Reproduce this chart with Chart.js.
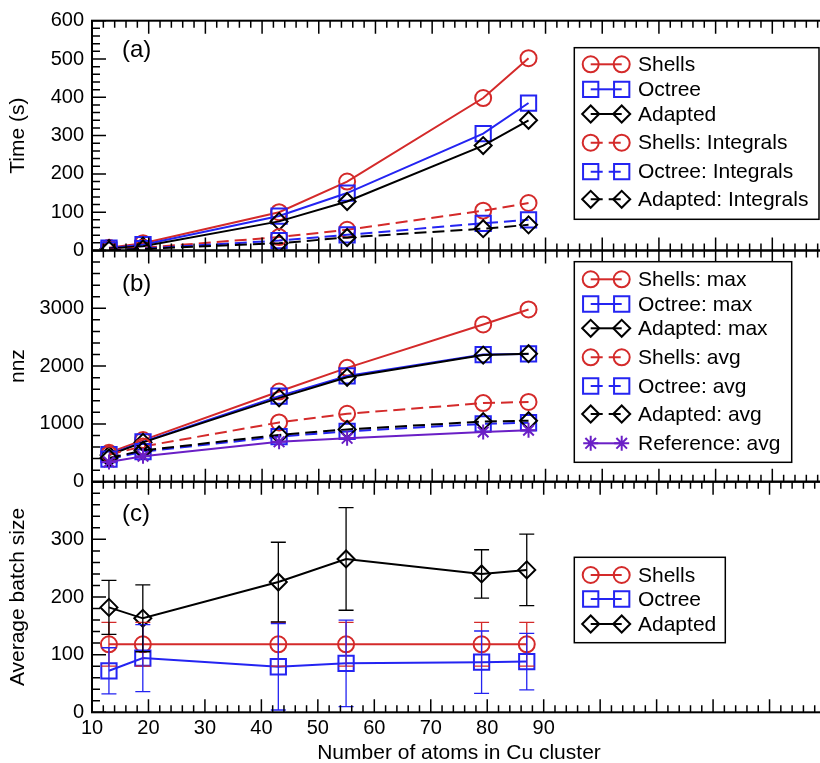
<!DOCTYPE html>
<html><head><meta charset="utf-8">
<script src="https://cdn.jsdelivr.net/npm/chart.js@4.4.1/dist/chart.umd.min.js"></script>
<style>
html,body{margin:0;padding:0;background:#fff;overflow:hidden;}
#wrap{position:relative;width:820px;height:763px;overflow:hidden;background:#fff;}
canvas{position:absolute;left:0;top:0;}
</style></head><body>
<div id="wrap">
<canvas id="ca" width="830" height="763"></canvas>
<canvas id="cb" width="830" height="763"></canvas>
<canvas id="cc" width="830" height="763"></canvas>
</div>
<script>
// ---------- data ----------
const atoms = [13, 19, 43, 55, 79, 87];
const xTickLabels = [10, 20, 30, 40, 50, 60, 70, 80, 90];

// (a) Time (s)
const timeShells  = [7, 19, 100, 180, 398, 502];
const timeOctree  = [6, 15, 90, 150, 305, 385];
const timeAdapted = [5, 11, 76, 128, 274, 340];
const intShells   = [2, 7, 35, 54, 104, 124];
const intOctree   = [1, 5, 26, 41, 71, 80];
const intAdapted  = [1, 4, 19, 34, 57, 67];
const timeTicks = [0, 100, 200, 300, 400, 500, 600];

// (b) nnz
const nnzShellsMax  = [500, 720, 1560, 1970, 2720, 2980];
const nnzOctreeMax  = [470, 690, 1480, 1830, 2200, 2210];
const nnzAdaptedMax = [460, 680, 1450, 1806, 2190, 2215];
const nnzShellsAvg  = [470, 610, 1025, 1175, 1360, 1380];
const nnzOctreeAvg  = [390, 520, 780, 870, 1000, 1020];
const nnzAdaptedAvg = [410, 540, 810, 905, 1040, 1055];
const nnzRefAvg     = [340, 440, 690, 750, 860, 890];
const nnzTicks = [0, 1000, 2000, 3000];

// (c) Average batch size (value, +/- error)
const batchShells  = [118, 118, 118, 118, 118, 118];
const errShells    = [38, 38, 38, 38, 38, 38];
const batchOctree  = [72, 94, 79, 85, 87, 88];
const errOctree    = [40, 58, 75, 75, 54, 49];
const batchAdapted = [182, 163, 226, 266, 240, 247];
const errAdapted   = [47, 58, 69, 89, 42, 62];
const batchTicks = [0, 100, 200, 300];

// ---------- styles ----------
const RED = '#d42a2a', BLUE = '#2424f2', BLACK = '#000000', PURPLE = '#6a1fc6';
const FONT = '"Liberation Sans", Arial, Helvetica, sans-serif';
const R = {circle: 8, rect: 10.8, rectRot: 8.5, star: 7.5};
const DASH = [12, 6];

function series(vals, color, style, dashed) {
  return {
    data: atoms.map((x, i) => ({x: x, y: vals[i]})),
    borderColor: color, borderWidth: 2, borderDash: dashed ? DASH : [],
    pointStyle: style, pointRadius: R[style], pointHoverRadius: R[style],
    pointBorderColor: color, pointBorderWidth: 2,
    pointBackgroundColor: 'rgba(0,0,0,0)', fill: false, tension: 0
  };
}

function drawMarker(ctx, style, x, y, color) {
  const r = R[style];
  ctx.save();
  ctx.setLineDash([]);
  ctx.strokeStyle = color; ctx.lineWidth = 2;
  ctx.beginPath();
  if (style === 'circle') ctx.arc(x, y, r, 0, Math.PI * 2);
  else if (style === 'rect') { const s = Math.SQRT1_2 * r; ctx.rect(x - s, y - s, 2 * s, 2 * s); }
  else if (style === 'rectRot') { ctx.moveTo(x - r, y); ctx.lineTo(x, y - r); ctx.lineTo(x + r, y); ctx.lineTo(x, y + r); ctx.closePath(); }
  else if (style === 'star') {
    for (let k = 0; k < 4; k++) {
      const a = k * Math.PI / 4, c = Math.cos(a) * r, s = Math.sin(a) * r;
      ctx.moveTo(x + c, y + s); ctx.lineTo(x - c, y - s);
    }
  }
  ctx.stroke();
  ctx.restore();
}

const framePlugin = {
  id: 'frame',
  afterDatasetsDraw(chart, args, o) {
    const ctx = chart.ctx;
    if (o.errors) {
      const xs = chart.scales.x, ys = chart.scales.y;
      ctx.save();
      o.errors.forEach(e => {
        ctx.strokeStyle = e.color; ctx.lineWidth = 1.3; ctx.setLineDash([]);
        atoms.forEach((x, i) => {
          const px = xs.getPixelForValue(x);
          const p1 = ys.getPixelForValue(e.vals[i] + e.err[i]);
          const p2 = ys.getPixelForValue(e.vals[i] - e.err[i]);
          ctx.beginPath();
          ctx.moveTo(px, p1); ctx.lineTo(px, p2);
          ctx.moveTo(px - 7.5, p1); ctx.lineTo(px + 7.5, p1);
          ctx.moveTo(px - 7.5, p2); ctx.lineTo(px + 7.5, p2);
          ctx.stroke();
        });
      });
      ctx.restore();
    }
  },
  afterDraw(chart, args, o) {
    const ctx = chart.ctx;
    const {left, right, top, bottom} = chart.chartArea;
    const xs = chart.scales.x, ys = chart.scales.y;
    ctx.save();
    ctx.strokeStyle = '#000'; ctx.setLineDash([]);
    ctx.lineWidth = 1.5;
    ctx.beginPath();
    for (let k = 5; k <= 70; k++) {
      const v = k * 2, px = xs.getPixelForValue(v);
      const L = (v % 10 === 0) ? 13 : 7;
      ctx.moveTo(px, top); ctx.lineTo(px, top + L);
      ctx.moveTo(px, bottom); ctx.lineTo(px, bottom - L);
    }
    const n = Math.round((o.yMax - o.yMin) / o.yMinor);
    for (let k = 0; k <= n; k++) {
      const v = o.yMin + k * o.yMinor, py = ys.getPixelForValue(v);
      const L = (k % o.perMajor === 0) ? 14 : 8;
      ctx.moveTo(left, py); ctx.lineTo(left + L, py);
    }
    ctx.stroke();
    ctx.lineWidth = 2;
    ctx.strokeRect(left, top, right - left, bottom - top);
    // panel label
    ctx.fillStyle = '#000';
    ctx.font = '24px ' + FONT;
    ctx.textBaseline = 'middle'; ctx.textAlign = 'left';
    ctx.fillText(o.label, 122, o.labelY);
    // legend
    const lg = o.legend;
    ctx.fillStyle = '#fff';
    ctx.fillRect(lg.x1, lg.y1, lg.x2 - lg.x1, lg.y2 - lg.y1);
    ctx.lineWidth = 1.5; ctx.strokeStyle = '#000';
    ctx.strokeRect(lg.x1, lg.y1, lg.x2 - lg.x1, lg.y2 - lg.y1);
    ctx.font = '21px ' + FONT;
    lg.items.forEach(it => {
      ctx.save();
      ctx.strokeStyle = it.color; ctx.lineWidth = 2;
      ctx.setLineDash(it.dashed ? DASH : []);
      ctx.beginPath(); ctx.moveTo(590.7, it.y); ctx.lineTo(621.7, it.y); ctx.stroke();
      ctx.restore();
      drawMarker(ctx, it.style, 590.7, it.y, it.color);
      drawMarker(ctx, it.style, 621.7, it.y, it.color);
      ctx.fillStyle = '#000';
      ctx.fillText(it.text, 638, it.y + 1);
    });
    ctx.restore();
  }
};

function makeChart(id, datasets, yMin, yMax, yStep, yMinor, title, padTop, padBottom, frame, showX) {
  const xScale = {
    type: 'linear', min: 10, max: 140,
    grid: {display: false, drawTicks: false}, border: {display: false},
    ticks: {display: false},
    afterFit: s => { s.height = 0; }
  };
  if (showX) {
    xScale.ticks = {
      display: true, stepSize: 10, autoSkip: false, maxRotation: 0, padding: 4,
      color: '#000', font: {family: FONT, size: 20},
      callback: v => xTickLabels.includes(v) ? String(v) : ''
    };
    xScale.title = {display: true, text: 'Number of atoms in Cu cluster', color: '#000',
      font: {family: FONT, size: 21, lineHeight: 1}, padding: {top: 0, bottom: -1}};
    xScale.afterFit = s => { s.height = 763 - 712.3; };
  }
  return new Chart(document.getElementById(id), {
    type: 'line',
    data: {datasets: datasets.slice().reverse()},
    options: {
      responsive: false, animation: false, devicePixelRatio: 1,
      layout: {autoPadding: false, padding: {top: padTop, bottom: padBottom, left: 0, right: 1}},
      plugins: {legend: {display: false}, tooltip: {enabled: false}, frame: frame},
      scales: {
        x: xScale,
        y: {
          min: yMin, max: yMax,
          grid: {display: false, drawTicks: false}, border: {display: false},
          ticks: {stepSize: yStep, padding: 8, color: '#000', font: {family: FONT, size: 20},
            callback: v => frame.tickLabels.includes(v) ? String(v) : ''},
          title: {display: true, text: title, color: '#000',
            font: {family: FONT, size: 21, lineHeight: 1}, padding: {top: 7.5, bottom: 0}},
          afterFit: s => { s.width = 92; }
        }
      }
    },
    plugins: [framePlugin]
  });
}

// (a)
makeChart('ca', [
  series(timeShells, RED, 'circle', false),
  series(timeOctree, BLUE, 'rect', false),
  series(timeAdapted, BLACK, 'rectRot', false),
  series(intShells, RED, 'circle', true),
  series(intOctree, BLUE, 'rect', true),
  series(intAdapted, BLACK, 'rectRot', true)
], 0, 600, 100, 20, 'Time (s)', 20.7, 763 - 250.5, {
  yMin: 0, yMax: 600, yMinor: 20, perMajor: 5, tickLabels: timeTicks,
  label: '(a)', labelY: 50,
  legend: {x1: 574.3, y1: 47.7, x2: 819, y2: 219.3, items: [
    {text: 'Shells', color: RED, style: 'circle', dashed: false, y: 64.3},
    {text: 'Octree', color: BLUE, style: 'rect', dashed: false, y: 89.3},
    {text: 'Adapted', color: BLACK, style: 'rectRot', dashed: false, y: 114},
    {text: 'Shells: Integrals', color: RED, style: 'circle', dashed: true, y: 142.7},
    {text: 'Octree: Integrals', color: BLUE, style: 'rect', dashed: true, y: 171.7},
    {text: 'Adapted: Integrals', color: BLACK, style: 'rectRot', dashed: true, y: 199.3}
  ]}
}, false);

// (b)
makeChart('cb', [
  series(nnzShellsMax, RED, 'circle', false),
  series(nnzOctreeMax, BLUE, 'rect', false),
  series(nnzAdaptedMax, BLACK, 'rectRot', false),
  series(nnzShellsAvg, RED, 'circle', true),
  series(nnzOctreeAvg, BLUE, 'rect', true),
  series(nnzAdaptedAvg, BLACK, 'rectRot', true),
  series(nnzRefAvg, PURPLE, 'star', false)
], 0, 4000, 1000, 200, 'nnz', 250.5, 763 - 481.7, {
  yMin: 0, yMax: 4000, yMinor: 200, perMajor: 5, tickLabels: nnzTicks,
  label: '(b)', labelY: 284,
  legend: {x1: 574.3, y1: 261.7, x2: 791.7, y2: 462.3, items: [
    {text: 'Shells: max', color: RED, style: 'circle', dashed: false, y: 279.3},
    {text: 'Octree: max', color: BLUE, style: 'rect', dashed: false, y: 304},
    {text: 'Adapted: max', color: BLACK, style: 'rectRot', dashed: false, y: 328.3},
    {text: 'Shells: avg', color: RED, style: 'circle', dashed: true, y: 357.3},
    {text: 'Octree: avg', color: BLUE, style: 'rect', dashed: true, y: 386},
    {text: 'Adapted: avg', color: BLACK, style: 'rectRot', dashed: true, y: 414},
    {text: 'Reference: avg', color: PURPLE, style: 'star', dashed: false, y: 443.3}
  ]}
}, false);

// (c)
makeChart('cc', [
  series(batchShells, RED, 'circle', false),
  series(batchOctree, BLUE, 'rect', false),
  series(batchAdapted, BLACK, 'rectRot', false)
], 0, 400, 100, 20, 'Average batch size', 481.7, 0, {
  yMin: 0, yMax: 400, yMinor: 20, perMajor: 5, tickLabels: batchTicks,
  label: '(c)', labelY: 514,
  errors: [
    {vals: batchShells, err: errShells, color: RED},
    {vals: batchOctree, err: errOctree, color: BLUE},
    {vals: batchAdapted, err: errAdapted, color: BLACK}
  ],
  legend: {x1: 574.3, y1: 557.3, x2: 725.3, y2: 642.7, items: [
    {text: 'Shells', color: RED, style: 'circle', dashed: false, y: 575},
    {text: 'Octree', color: BLUE, style: 'rect', dashed: false, y: 599},
    {text: 'Adapted', color: BLACK, style: 'rectRot', dashed: false, y: 624}
  ]}
}, true);
</script>
</body></html>
